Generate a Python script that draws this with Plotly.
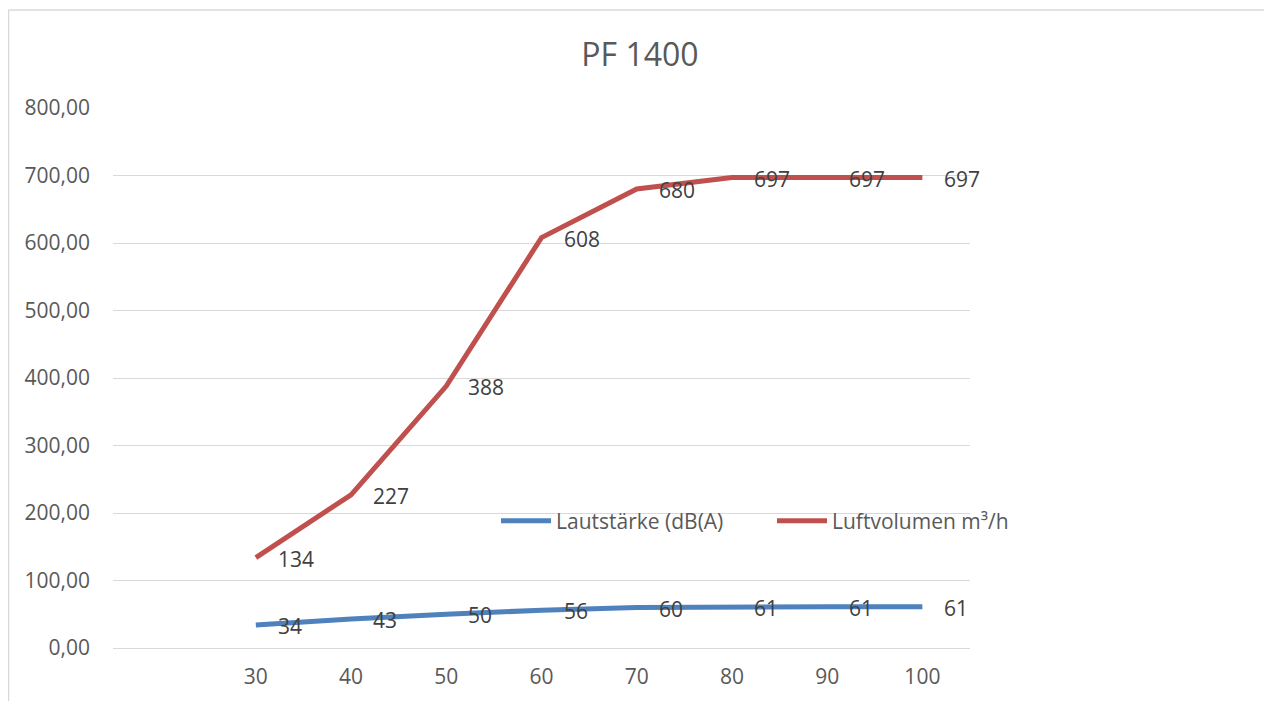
import plotly.graph_objects as go

x_vals = [30, 40, 50, 60, 70, 80, 90, 100]
laut = [34, 43, 50, 56, 60, 61, 61, 61]
luft = [134, 227, 388, 608, 680, 697, 697, 697]
y_ticks = [0, 100, 200, 300, 400, 500, 600, 700, 800]
series_names = ["Lautstärke (dB(A)", "Luftvolumen m³/h"]
colors = ["#4F81BD", "#C0504D"]

FONT = "Open Sans"
FS = 21
fig = go.Figure()
for name, ys, c in zip(series_names, [laut, luft], colors):
    fig.add_trace(go.Scatter(x=x_vals, y=ys, mode="lines", name=name,
                             line=dict(color=c, width=5)))
    for xv, yv in zip(x_vals, ys):
        fig.add_annotation(x=xv, y=yv, text=str(yv), showarrow=False,
                           xanchor="left", yanchor="middle", xshift=20, yshift=-1,
                           font=dict(family=FONT, size=FS, color="#404040"))

# page body has an 8px offset, so figure coords = screen coords - 8
W, H = 1264, 693
L, T = 105, 100
R = W - 962
B = H - 640
pw, ph = W - L - R, H - T - B
bx = (0.5 - L) / pw
by = 1 + (T - 2) / ph
fig.add_shape(type="line", xref="paper", yref="paper", x0=bx, x1=bx, y0=-0.2, y1=by,
              line=dict(color="#D9D9D9", width=1.5))
fig.add_shape(type="line", xref="paper", yref="paper", x0=bx, x1=1.5, y0=by, y1=by,
              line=dict(color="#D9D9D9", width=1.5))

fig.update_layout(
    width=W, height=H,
    margin=dict(l=L, r=R, t=T, b=B),
    paper_bgcolor="white", plot_bgcolor="white",
    separators=",.",
    title=dict(text="PF 1400", x=(632) / W, xanchor="center", y=1 - 47 / H, yanchor="middle",
               font=dict(family=FONT, size=32, color="#595959")),
    font=dict(family=FONT, size=FS, color="#595959"),
    showlegend=True,
    legend=dict(orientation="h", x=(488 - L) / pw, xanchor="left", y=(640 - 513) / ph, yanchor="middle",
                font=dict(family=FONT, size=FS, color="#595959"), bgcolor="rgba(0,0,0,0)",
                itemwidth=50, tracegroupgap=0, entrywidth=211, entrywidthmode="pixels"),
)
fig.update_xaxes(range=[15, 105], tickvals=x_vals, ticktext=[str(v) for v in x_vals],
                 showgrid=False, zeroline=False, showline=False, ticks="",
                 ticklabelstandoff=14, tickfont=dict(family=FONT, size=FS, color="#595959"))
fig.update_yaxes(range=[0, 800], tickvals=y_ticks, tickformat=".2f",
                 showgrid=True, gridcolor="#D9D9D9", gridwidth=1.3,
                 zeroline=True, zerolinecolor="#D9D9D9", zerolinewidth=1.3,
                 showline=False, ticks="", ticklabelstandoff=22,
                 tickfont=dict(family=FONT, size=FS, color="#595959"))

fig.write_html("out.html")
